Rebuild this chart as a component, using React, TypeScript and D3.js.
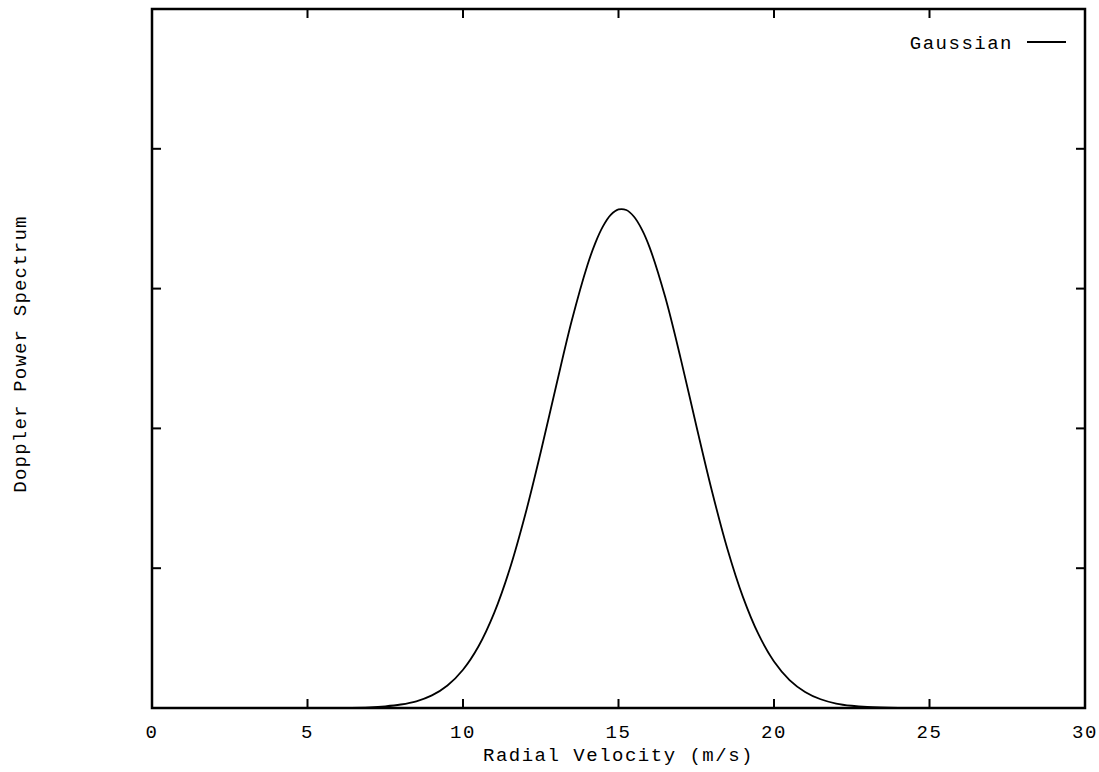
import React, { useRef, useEffect } from 'react';
import * as d3 from 'd3';

// radial velocity (m/s) and spectrum values
const velocity = [0, 2, 4, 5, 6, 7, 7.5, 8, 8.5, 9, 9.5, 10, 10.5, 11, 11.5, 12, 12.5, 13, 13.5, 14, 14.25, 14.5, 14.75, 15, 15.25, 15.5, 15.75, 16, 16.5, 17, 17.5, 18, 18.5, 19, 19.5, 20, 20.5, 21, 21.5, 22, 22.5, 23, 24, 25, 27, 30];
const power = [0, 0, 0, 0.0002, 0.001, 0.005, 0.012, 0.025, 0.048, 0.09, 0.161, 0.274, 0.442, 0.679, 0.992, 1.382, 1.831, 2.309, 2.773, 3.167, 3.324, 3.445, 3.527, 3.566, 3.562, 3.514, 3.424, 3.295, 2.941, 2.499, 2.021, 1.556, 1.139, 0.795, 0.528, 0.333, 0.2, 0.115, 0.0625, 0.032, 0.016, 0.0075, 0.0014, 0.0002, 0, 0];

const xTicks = [0, 5, 10, 15, 20, 25, 30];
const yTicks = [0, 1, 2, 3, 4, 5];

const seriesName = 'Gaussian';
const xTitle = 'Radial Velocity (m/s)';
const yTitle = 'Doppler Power Spectrum';

const App = () => {
  const ref = useRef<SVGSVGElement>(null);

  useEffect(() => {
    const svg = d3.select(ref.current);
    svg.selectAll('*').remove();

    const margin = { top: 9, right: 14, bottom: 64, left: 152 };
    const width = 1099;
    const height = 772;
    const font = '"Liberation Mono", "DejaVu Sans Mono", monospace';

    const x = d3.scaleLinear().domain([0, 30]).range([margin.left, width - margin.right]);
    const y = d3.scaleLinear().domain([0, 5]).range([height - margin.bottom, margin.top]);

    const tick = 9;

    // bottom / top ticks pointing inward
    svg.append('g')
      .selectAll('line')
      .data(xTicks)
      .join('line')
      .attr('x1', d => x(d)).attr('x2', d => x(d))
      .attr('y1', y(0)).attr('y2', y(0) - tick)
      .attr('stroke', '#000').attr('stroke-width', 2);
    svg.append('g')
      .selectAll('line')
      .data(xTicks)
      .join('line')
      .attr('x1', d => x(d)).attr('x2', d => x(d))
      .attr('y1', y(5)).attr('y2', y(5) + tick)
      .attr('stroke', '#000').attr('stroke-width', 2);

    // left / right ticks, no labels
    svg.append('g')
      .selectAll('line')
      .data(yTicks)
      .join('line')
      .attr('x1', x(0)).attr('x2', x(0) + tick)
      .attr('y1', d => y(d)).attr('y2', d => y(d))
      .attr('stroke', '#000').attr('stroke-width', 2);
    svg.append('g')
      .selectAll('line')
      .data(yTicks)
      .join('line')
      .attr('x1', x(30)).attr('x2', x(30) - tick)
      .attr('y1', d => y(d)).attr('y2', d => y(d))
      .attr('stroke', '#000').attr('stroke-width', 2);

    // tick labels
    svg.append('g')
      .selectAll('text')
      .data(xTicks)
      .join('text')
      .attr('x', d => x(d))
      .attr('y', y(0) + 30)
      .attr('text-anchor', 'middle')
      .attr('font-family', font)
      .attr('font-size', 19)
      .attr('letter-spacing', 1.5)
      .text(d => d);

    // frame
    svg.append('rect')
      .attr('x', x(0)).attr('y', y(5))
      .attr('width', x(30) - x(0)).attr('height', y(0) - y(5))
      .attr('fill', 'none').attr('stroke', '#000').attr('stroke-width', 2.5);

    // curve
    const pts: [number, number][] = velocity.map((v, i) => [v, power[i]]);
    const line = d3.line<[number, number]>()
      .x(d => x(d[0]))
      .y(d => y(d[1]))
      .curve(d3.curveCatmullRom.alpha(0.5));
    svg.append('path')
      .datum(pts)
      .attr('d', line)
      .attr('fill', 'none')
      .attr('stroke', '#000')
      .attr('stroke-width', 1.8);

    // legend
    svg.append('text')
      .attr('x', 1013).attr('y', 49)
      .attr('text-anchor', 'end')
      .attr('font-family', font)
      .attr('font-size', 19)
      .attr('letter-spacing', 1.5)
      .text(seriesName);
    svg.append('line')
      .attr('x1', 1027).attr('x2', 1066)
      .attr('y1', 42).attr('y2', 42)
      .attr('stroke', '#000').attr('stroke-width', 1.8);

    // axis titles
    svg.append('text')
      .attr('x', (x(0) + x(30)) / 2)
      .attr('y', 761)
      .attr('text-anchor', 'middle')
      .attr('font-family', font)
      .attr('font-size', 19)
      .attr('letter-spacing', 1.5)
      .text(xTitle);
    svg.append('text')
      .attr('transform', 'translate(26,354) rotate(-90)')
      .attr('text-anchor', 'middle')
      .attr('font-family', font)
      .attr('font-size', 19)
      .attr('letter-spacing', 1.2)
      .text(yTitle);
  }, []);

  return (
    <svg
      ref={ref}
      width={1099}
      height={772}
      style={{ position: 'absolute', left: 0, top: 0, background: '#fff' }}
    />
  );
};

export default App;
